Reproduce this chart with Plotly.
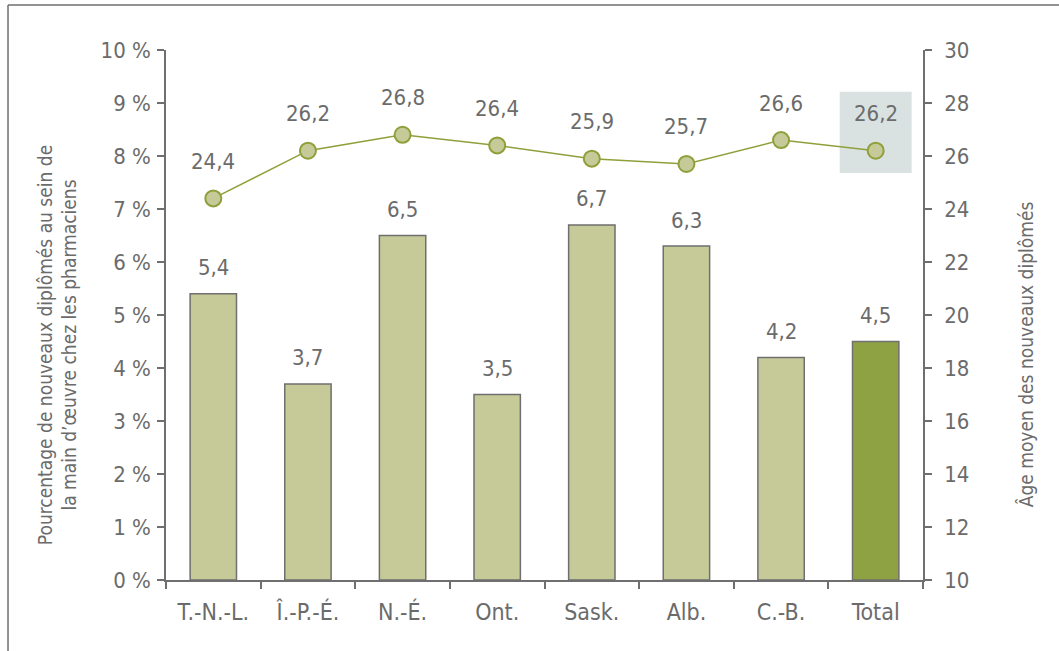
import plotly.graph_objects as go

# Provinces and totals
categories = ["T.-N.-L.", "Î.-P.-É.", "N.-É.", "Ont.", "Sask.", "Alb.", "C.-B.", "Total"]
# Share of new graduates in the pharmacist workforce (%)
pct_new_grads = [5.4, 3.7, 6.5, 3.5, 6.7, 6.3, 4.2, 4.5]
# Mean age of new graduates (years)
mean_age = [24.4, 26.2, 26.8, 26.4, 25.9, 25.7, 26.6, 26.2]

left_ticks = list(range(0, 11))
left_ticktext = [f"{v} %" for v in left_ticks]
right_ticks = list(range(10, 31, 2))

left_title = "Pourcentage de nouveaux diplômés au sein de<br>la main d’œuvre chez les pharmaciens"
right_title = "Âge moyen des nouveaux diplômés"

FONT = "DejaVu Sans Condensed, Liberation Sans Narrow, Arial Narrow, sans-serif"
TEXT = "#6b6b6b"
AXIS = "#6f6f6f"
BAR_LIGHT = "#c6ca98"
BAR_DARK = "#8fa243"
LINE = "#8fa03a"
HILITE = "#d9e2e1"


def fmt(v):
    return f"{v:.1f}".replace(".", ",")


bar_colors = [BAR_DARK if c == "Total" else BAR_LIGHT for c in categories]

fig = go.Figure()
fig.add_trace(go.Bar(
    x=categories, y=pct_new_grads, marker=dict(color=bar_colors, line=dict(color=AXIS, width=1.5)),
    width=0.49, yaxis="y", hoverinfo="skip",
))
fig.add_trace(go.Scatter(
    x=categories, y=mean_age, yaxis="y2", mode="lines+markers",
    line=dict(color=LINE, width=1.5),
    marker=dict(size=16, color=BAR_LIGHT, line=dict(color=LINE, width=2)),
    hoverinfo="skip",
))

label_font = dict(family=FONT, size=22, color=TEXT)
title_font = dict(family=FONT, size=19, color=TEXT)
annotations = []
for c, v in zip(categories, pct_new_grads):
    annotations.append(dict(x=c, y=v, xref="x", yref="y", text=fmt(v), showarrow=False,
                            yanchor="middle", yshift=26, font=label_font))
for c, v in zip(categories, mean_age):
    annotations.append(dict(x=c, y=v, xref="x", yref="y2", text=fmt(v), showarrow=False,
                            yanchor="middle", yshift=37, font=label_font))

# axis titles
annotations.append(dict(x=-0.144, y=0.443, xref="paper", yref="paper", text=left_title,
                        textangle=-90, showarrow=False, xanchor="center", yanchor="middle",
                        font=title_font))
annotations.append(dict(x=1.1361, y=0.426, xref="paper", yref="paper", text=right_title,
                        textangle=-90, showarrow=False, xanchor="center", yanchor="middle",
                        font=title_font))

tick_font = dict(family=FONT, size=22, color=TEXT)
cat_font = dict(family=FONT, size=23, color=TEXT)

shapes = [
    # highlight behind the total's mean age
    dict(type="rect", xref="x", yref="y2", x0=6.62, x1=7.38, y0=25.36, y1=28.42,
         fillcolor=HILITE, line=dict(width=0), layer="below"),
    # outer frame (top and left edges)
    dict(type="line", xref="paper", yref="paper", x0=-0.2087, x1=1.19, y0=1.0849, y1=1.0849,
         line=dict(color=AXIS, width=1.5)),
    dict(type="line", xref="paper", yref="paper", x0=-0.2087, x1=-0.2087, y0=1.0849, y1=-0.15,
         line=dict(color=AXIS, width=1.5)),
]

fig.update_layout(
    width=1059, height=651,
    margin=dict(l=166, r=136, t=50, b=71),
    paper_bgcolor="white", plot_bgcolor="white",
    showlegend=False,
    font=dict(family=FONT, color=TEXT),
    xaxis=dict(
        type="category", categoryorder="array", categoryarray=categories,
        range=[-0.5, 7.5], tickson="boundaries", ticks="outside", ticklen=7, tickwidth=1.5,
        tickcolor=AXIS, showline=True, linecolor=AXIS, linewidth=1.5, showgrid=False,
        tickfont=cat_font, ticklabelstandoff=11,
    ),
    xaxis2=dict(
        overlaying="x", anchor="y", side="bottom", range=[-0.5, 7.5],
        tickvals=[i - 0.5 for i in range(9)], ticks="inside", ticklen=7, tickwidth=1.5,
        tickcolor=AXIS, showticklabels=False, showgrid=False, showline=False, zeroline=False,
    ),
    yaxis=dict(
        range=[0, 10], tickvals=left_ticks, ticktext=left_ticktext, ticks="outside",
        ticklen=7, tickwidth=1.5, tickcolor=AXIS, showline=True, linecolor=AXIS, linewidth=1.5,
        showgrid=False, zeroline=False, tickfont=tick_font, ticklabelstandoff=2,
    ),
    yaxis2=dict(
        range=[10, 30], tickvals=right_ticks, overlaying="y", side="right", anchor="x",
        ticks="outside", ticklen=7, tickwidth=1.5, tickcolor=AXIS, showline=True,
        linecolor=AXIS, linewidth=1.5, showgrid=False, zeroline=False, tickfont=tick_font,
        ticklabelstandoff=8,
    ),
    yaxis3=dict(
        range=[0, 10], tickvals=left_ticks, overlaying="y", side="left", anchor="x",
        ticks="inside", ticklen=7, tickwidth=1.5, tickcolor=AXIS, showticklabels=False,
        showgrid=False, zeroline=False, showline=False,
    ),
    yaxis4=dict(
        range=[10, 30], tickvals=right_ticks, overlaying="y", side="right", anchor="x",
        ticks="inside", ticklen=7, tickwidth=1.5, tickcolor=AXIS, showticklabels=False,
        showgrid=False, zeroline=False, showline=False,
    ),
    annotations=annotations,
    shapes=shapes,
)

fig.write_html("out.html")
